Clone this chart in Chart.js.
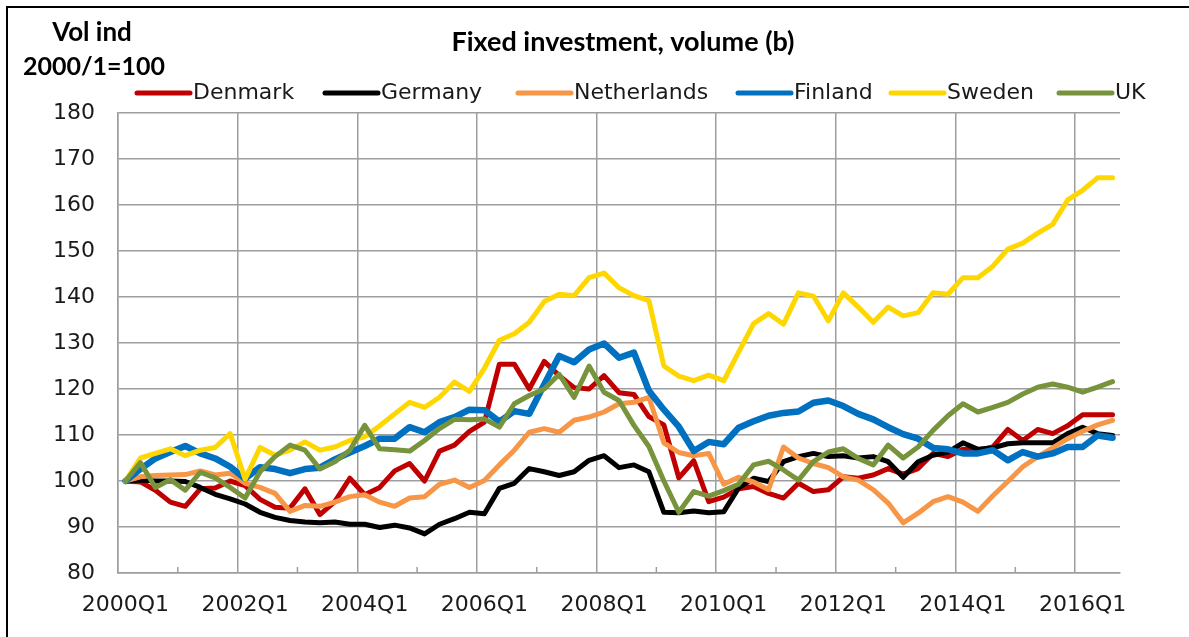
<!DOCTYPE html>
<html>
<head>
<meta charset="utf-8">
<script src="https://cdn.jsdelivr.net/npm/chart.js@4/dist/chart.umd.min.js"></script>
<style>
  html, body { margin: 0; padding: 0; background: #ffffff; }
  #wrap { position: absolute; left: 0; top: 0; width: 1189px; height: 637px; }
  #frame { position: absolute; left: 6px; top: 6px; width: 1300px; height: 800px;
           border-left: 2px solid #000; border-top: 2px solid #000; pointer-events: none; }
</style>
</head>
<body>
<div id="wrap"><canvas id="c" width="1189" height="637"></canvas></div>
<div id="frame"></div>
<script>
// ---- categories ----
const years = [2000,2001,2002,2003,2004,2005,2006,2007,2008,2009,2010,2011,2012,2013,2014,2015,2016];
const quarterNames = ['Q1','Q2','Q3','Q4'];
const quarters = [];
years.forEach(y => quarterNames.forEach(q => quarters.push(y + q)));
quarters.length = 67; // 2000Q1 .. 2016Q3

// ---- series (volume index, 2000Q1 = 100) ----
const denmark = [100,99.8,98,95.4,94.5,98.3,98.5,100,99,96,94.3,94.1,98.3,92.7,95.5,100.6,97,98.6,102.2,103.8,100,106.5,107.8,110.8,112.8,125.4,125.4,120,126,122.9,120.3,120,122.9,119.2,118.8,114,112.2,100.7,104.4,95.5,96.5,98.3,98.8,97.3,96.3,99.5,97.7,98.1,100.9,100.6,101.3,102.7,101.5,102.7,106,105.3,106.9,106.7,107.4,111.2,108.8,111.2,110.3,112,114.4,114.4,114.4];
const germany = [100,100.2,100,100,99.9,98.6,97.1,96.1,95,93.2,92.1,91.4,91.1,90.9,91.1,90.6,90.6,89.9,90.4,89.8,88.5,90.6,91.8,93.2,92.9,98.4,99.5,102.7,102,101.2,102,104.5,105.5,102.9,103.5,102,93.2,93.1,93.5,93.1,93.3,98.5,100.6,99.9,104.2,105.3,106,105.3,105.5,105,105.3,104.2,100.8,104.2,105.6,106.3,108.3,106.9,107.2,108.1,108.3,108.3,108.3,110.3,111.7,110.3,109.9];
const netherlands = [100,100.9,101.2,101.3,101.4,102.2,101.3,101.7,99.5,98.6,97.3,93.4,94.7,94.5,95.4,96.6,97,95.4,94.5,96.3,96.6,99.3,100.2,98.6,100.1,103.5,106.7,110.6,111.4,110.6,113.2,113.9,115,116.8,117.1,118.2,108.3,106.2,105.5,106,99.3,100.8,99.8,98.1,107.4,105,103.8,102.9,100.9,100.2,98.1,95.2,90.9,93,95.5,96.6,95.4,93.4,96.8,99.9,103.1,105.3,107.2,109.2,110.8,112.2,113.2];
const finland = [100,102.6,104.9,106.3,107.6,106,104.9,103.1,100.5,103,102.6,101.7,102.6,102.9,104.7,106.2,107.6,109.2,109.2,111.7,110.6,112.8,113.9,115.5,115.4,112.9,115.2,114.6,121,127.2,125.8,128.6,129.9,126.8,127.9,119.6,115.5,111.8,106.5,108.5,108,111.6,113,114.2,114.8,115.1,117,117.5,116.3,114.6,113.4,111.7,110.2,109.2,107.2,106.9,106,106,106.7,104.5,106.3,105.3,106,107.4,107.4,109.9,109.4];
const sweden = [100,105,106,107,105.5,106.7,107.3,110.3,100.4,107.3,105.6,106.7,108.5,106.7,107.4,108.8,109.6,112,114.6,117.1,116,118.2,121.5,119.5,124.5,130.6,132,134.5,139,140.6,140.3,144.2,145.2,142,140.3,139.2,125,122.8,121.8,123,121.8,128,134.2,136.4,134.1,140.9,140.2,134.8,140.9,137.8,134.5,137.8,135.9,136.6,140.9,140.6,144.2,144.2,146.7,150.4,151.7,153.9,155.8,161.1,163.2,165.9,165.9];
const uk = [100,104,98.6,100.3,98,101.9,100.7,98.6,96.3,102,105.3,107.8,106.7,102.6,104.2,106.7,112.1,107,106.8,106.5,108.8,111.4,113.4,113.3,113.5,111.7,116.8,118.6,120,123.2,118.2,125,119.3,117.5,112.1,107.5,100,93.2,97.7,96.7,97.9,99.3,103.5,104.3,102.4,100.2,104.2,106.3,107,104.9,103.5,107.8,105,107.4,111,114.2,116.8,115,116,117.1,118.9,120.4,121.1,120.4,119.3,120.4,121.6];

const seriesNames = ['Denmark','Germany','Netherlands','Finland','Sweden','UK'];
const seriesData = [denmark, germany, netherlands, finland, sweden, uk];
const seriesColors = ['#C00000','#000000','#F79646','#0070C0','#FFD700','#77933C'];
const seriesWidths = [5, 5, 5, 6.5, 5, 5];

// ---- text ----
const titleText = 'Fixed investment, volume (b)';
const unitLines = ['Vol ind', '2000/1=100'];
const yMin = 80, yMax = 180, yStep = 10;

const GRID = '#9e9e9e';
const TXT = '#1a1a1a';
const legendX = [134, 322, 515, 735, 888, 1056];

const headerPlugin = {
  id: 'header',
  afterDraw(chart) {
    const ctx = chart.ctx;
    ctx.save();
    ctx.fillStyle = '#000';
    ctx.textBaseline = 'middle';
    ctx.textAlign = 'center';
    ctx.font = 'bold 27px Lato';
    ctx.fillText(titleText, 623, 42);
    ctx.font = 'bold 26px Lato';
    ctx.fillText(unitLines[0], 92, 33);
    ctx.font = 'bold 25px Lato';
    ctx.fillText(unitLines[1], 94, 67);
    // legend
    ctx.font = '22px "DejaVu Sans"';
    ctx.textAlign = 'left';
    const y = 93;
    chart.data.datasets.forEach((ds, k) => {
      const x = legendX[k];
      ctx.strokeStyle = ds.borderColor;
      ctx.lineWidth = 5;
      ctx.lineCap = 'round';
      ctx.beginPath();
      ctx.moveTo(x + 3, y);
      ctx.lineTo(x + 56, y);
      ctx.stroke();
      ctx.fillStyle = TXT;
      ctx.fillText(ds.label, x + 59, y);
    });
    ctx.restore();
  }
};

const minorTicks = {
  id: 'minorTicks',
  afterDatasetsDraw(chart) {
    const xs = chart.scales.x;
    const bottom = chart.chartArea.bottom;
    const ctx = chart.ctx;
    ctx.save();
    ctx.strokeStyle = GRID;
    ctx.lineWidth = 1.5;
    for (let i = 4; i < quarters.length; i += 8) {
      const px = (xs.getPixelForValue(i - 1) + xs.getPixelForValue(i)) / 2;
      ctx.beginPath();
      ctx.moveTo(px, bottom);
      ctx.lineTo(px, bottom - 6);
      ctx.stroke();
    }
    ctx.restore();
  }
};

new Chart(document.getElementById('c'), {
  type: 'line',
  data: {
    labels: quarters,
    datasets: seriesNames.map((name, k) => ({
      label: name,
      data: seriesData[k],
      borderColor: seriesColors[k],
      backgroundColor: seriesColors[k],
      borderWidth: seriesWidths[k],
      pointRadius: 0,
      tension: 0,
      fill: false,
      borderCapStyle: 'round',
      borderJoinStyle: 'round',
      order: seriesNames.length - k
    }))
  },
  options: {
    responsive: false,
    animation: false,
    devicePixelRatio: 1,
    layout: { padding: { left: 30, right: 69, top: 113, bottom: 0 } },
    plugins: { legend: { display: false }, title: { display: false }, tooltip: { enabled: false } },
    scales: {
      x: {
        type: 'category',
        offset: true,
        grid: {
          offset: true,
          drawTicks: false,
          lineWidth: 1.5,
          color: c => (c.index % 8 === 0 ? GRID : 'rgba(0,0,0,0)')
        },
        border: { display: true, color: GRID, width: 1.5 },
        ticks: {
          autoSkip: false,
          maxRotation: 0,
          minRotation: 0,
          padding: 21,
          color: TXT,
          font: { family: 'DejaVu Sans', size: 22, lineHeight: 1.0 },
          callback: function (v, i) { return i % 8 === 0 ? this.getLabelForValue(v) : ''; }
        }
      },
      y: {
        min: yMin,
        max: yMax,
        grid: { drawTicks: false, color: GRID, lineWidth: 1.5 },
        border: { display: true, color: GRID, width: 1.5 },
        ticks: {
          stepSize: yStep,
          padding: 23,
          color: TXT,
          font: { family: 'DejaVu Sans', size: 22 }
        }
      }
    }
  },
  plugins: [headerPlugin, minorTicks]
});
</script>
</body>
</html>
